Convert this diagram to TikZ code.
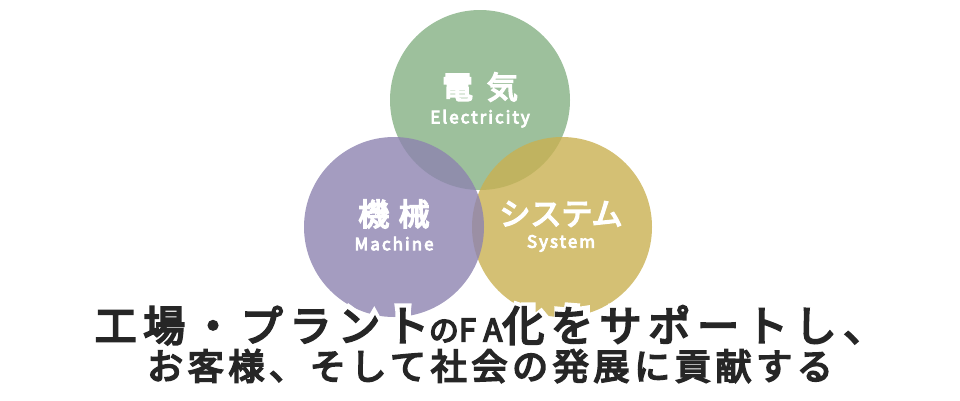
\documentclass[tikz,border=0pt]{standalone}
\usepackage{fontspec}
\setmainfont{Noto Sans CJK JP}[BoldFont=*, BoldFeatures={FakeBold=5}]
\newfontfamily\halofont{Noto Sans CJK JP}[FakeBold=20]
\usepackage{xcolor}
\usetikzlibrary{positioning}

\definecolor{elecgreen}{RGB}{132,176,131}
\definecolor{machpurple}{RGB}{141,131,176}
\definecolor{sysyellow}{RGB}{201,176,81}
\definecolor{leadgray}{RGB}{38,38,38}

% lines of the lead text
\newcommand\leadone{\fontsize{42}{42}\selectfont\addfontfeatures{LetterSpace=16}%
  工場・プラント{\fontsize{30}{30}\selectfont の}{\fontsize{31}{31}\selectfont\addfontfeatures{LetterSpace=28}FA}化をサポートし、}
\newcommand\leadtwo{\fontsize{36}{36}\selectfont\addfontfeatures{LetterSpace=13}%
  お客様、そして社会の発展に貢献する}
\newcommand\halo[1]{\rlap{\color{white}\halofont #1}#1}

\begin{document}
\begin{tikzpicture}[x=1pt, y=-1pt,
    ring/.style={circle, minimum size=180pt, inner sep=0pt, fill opacity=0.8},
    ringtitle/.style={text=white, inner sep=0pt, font=\bfseries\fontsize{31}{31}\selectfont},
    ringsub/.style={text=white, inner sep=0pt, font=\bfseries\fontsize{17}{17}\selectfont\addfontfeatures{LetterSpace=12}},
    lead/.style={text=leadgray, inner sep=0pt, font=\bfseries}]

    \useasboundingbox (0,0) rectangle (960,400);

    \node [ring, fill=elecgreen] (elec) at (480,100) {};
    \node [ring, fill=sysyellow] (sys) at (562,227) {};
    \node [ring, fill=machpurple] (mach) at (394,227) {};

    \node [ringtitle] (elecjp) at (480,87) {電\hspace{0.45em}気};
    \node [ringsub, below=8pt of elecjp] (elecen) {Electricity};
    \node [ringtitle] (machjp) at (394,214) {機\hspace{0.3em}械};
    \node [ringsub, below=8pt of machjp] (machen) {Machine};
    \node [ringtitle] (sysjp) at (561,214) {システム};
    \node [ringsub, below=8pt of sysjp] (sysen) {System};

    \node [lead] (lead1) at (490,325) {\halo{\leadone}};
    \node [lead] (lead2) at (490,366) {\halo{\leadtwo}};
\end{tikzpicture}
\end{document}
